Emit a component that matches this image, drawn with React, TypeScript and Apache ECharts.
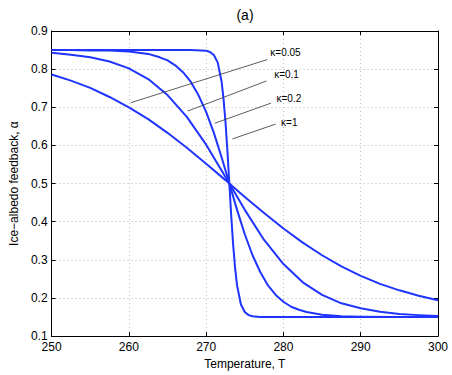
import React, { useEffect, useRef } from "react";
import * as echarts from "echarts";

const xTicks = [250, 260, 270, 280, 290, 300];
const yTicks = [0.1, 0.2, 0.3, 0.4, 0.5, 0.6, 0.7, 0.8, 0.9];

// kappa = 1
const tempK1 = [250, 252.5, 255, 257.5, 260, 262.5, 265, 267.5, 270, 272.5, 273, 275, 277.5, 280, 282.5, 285, 287.5, 290, 292.5, 295, 297.5, 300];
const alphaK1 = [0.786, 0.770, 0.751, 0.727, 0.700, 0.669, 0.633, 0.594, 0.552, 0.509, 0.5, 0.465, 0.423, 0.382, 0.345, 0.312, 0.283, 0.258, 0.237, 0.220, 0.206, 0.194];

// kappa = 0.2
const tempK02 = [250, 252.5, 255, 257.5, 260, 262.5, 265, 267.5, 270, 272.5, 273, 275, 277.5, 280, 282.5, 285, 287.5, 290, 292.5, 295, 297.5, 300];
const alphaK02 = [0.843, 0.838, 0.831, 0.820, 0.802, 0.774, 0.732, 0.675, 0.602, 0.517, 0.5, 0.431, 0.352, 0.289, 0.241, 0.208, 0.186, 0.173, 0.164, 0.158, 0.155, 0.153];

// kappa = 0.1
const tempK01 = [250, 252.5, 255, 257.5, 260, 262.5, 264, 265, 266, 267, 268, 269, 270, 271, 272, 273, 274, 275, 276, 277, 278, 279, 280, 281, 282, 283, 285, 287.5, 290, 295, 300];
const alphaK01 = [0.850, 0.850, 0.849, 0.849, 0.846, 0.840, 0.831, 0.823, 0.810, 0.792, 0.767, 0.732, 0.688, 0.633, 0.569, 0.5, 0.431, 0.367, 0.312, 0.268, 0.233, 0.208, 0.190, 0.177, 0.169, 0.163, 0.156, 0.152, 0.151, 0.150, 0.150];

// kappa = 0.05
const tempK005 = [250, 260, 268, 270, 270.5, 271, 271.5, 272, 272.25, 272.5, 272.75, 273, 273.25, 273.5, 273.75, 274, 274.5, 275, 275.5, 276, 277, 280, 290, 300];
const alphaK005 = [0.850, 0.850, 0.850, 0.848, 0.845, 0.837, 0.817, 0.767, 0.722, 0.662, 0.586, 0.5, 0.414, 0.338, 0.278, 0.233, 0.183, 0.163, 0.155, 0.152, 0.150, 0.150, 0.150, 0.150];

const labels = ["κ=0.05", "κ=0.1", "κ=0.2", "κ=1"];
// annotation leader lines: [T1, a1, T2, a2]
const leaders = [
  [260.25, 0.712, 277.9, 0.825],
  [267.6, 0.690, 277.8, 0.769],
  [271.1, 0.658, 278.4, 0.711],
  [273.4, 0.617, 279.0, 0.656],
];
const labelAnchors = [
  [278.3, 0.844],
  [278.8, 0.785],
  [279.1, 0.722],
  [279.7, 0.660],
];

const zip = (xs: number[], ys: number[]) => xs.map((x, i) => [x, ys[i]]);

const BLUE = "#1f35ff";
const FONT = "Liberation Sans, Arial, Helvetica, sans-serif";

export default function App() {
  const ref = useRef<HTMLDivElement>(null);
  useEffect(() => {
    if (!ref.current) return;
    const chart = echarts.init(ref.current, undefined, { renderer: "svg" });
    const seriesData = [
      zip(tempK005, alphaK005),
      zip(tempK01, alphaK01),
      zip(tempK02, alphaK02),
      zip(tempK1, alphaK1),
    ];
    const series: any[] = seriesData.map((d, i) => ({
      type: "line",
      data: d,
      showSymbol: false,
      smooth: false,
      lineStyle: { color: BLUE, width: 2, join: "round" },
      itemStyle: { color: BLUE },
      silent: true,
      z: 3,
      markLine: {
        silent: true,
        symbol: "none",
        label: { show: false },
        lineStyle: { color: "#333", width: 0.8, type: "solid" },
        data: [[{ coord: [leaders[i][0], leaders[i][1]] }, { coord: [leaders[i][2], leaders[i][3]] }]],
      },
      markPoint: {
        silent: true,
        symbol: "circle",
        symbolSize: 0,
        label: {
          show: true,
          position: "right",
          distance: 0,
          formatter: labels[i],
          color: "#000",
          fontSize: 10,
          fontFamily: FONT,
        },
        data: [{ coord: labelAnchors[i] }],
      },
    }));
    const axisCommon = {
      type: "value" as const,
      axisLine: { show: true, onZero: false, lineStyle: { color: "#000", width: 1 } },
      axisTick: { show: true, inside: true, length: 4, lineStyle: { color: "#000" } },
    };
    chart.setOption({
      animation: false,
      backgroundColor: "#fff",
      title: {
        text: "(a)",
        left: 240,
        top: 3,
        textAlign: "center",
        textStyle: { fontSize: 14, fontWeight: "normal", color: "#000", fontFamily: FONT },
      },
      grid: { left: 43, right: 14, top: 31, bottom: 33, containLabel: false },
      xAxis: [
        {
          ...axisCommon,
          min: 250,
          max: 300,
          interval: 10,
          position: "bottom",
          name: "Temperature, T",
          nameLocation: "middle",
          nameGap: 21,
          nameTextStyle: { fontSize: 12, color: "#000", fontFamily: FONT },
          axisLabel: {
            margin: 5,
            fontSize: 12,
            color: "#000",
            fontFamily: FONT,
            formatter: (v: number) => (xTicks.includes(v) ? String(v) : ""),
          },
          splitLine: { show: true, lineStyle: { color: "#bdbdbd", type: [1, 3], width: 1 } },
        },
        {
          ...axisCommon,
          min: 250,
          max: 300,
          interval: 10,
          position: "top",
          axisLabel: { show: false },
          splitLine: { show: false },
        },
      ],
      yAxis: [
        {
          ...axisCommon,
          min: 0.1,
          max: 0.9,
          interval: 0.1,
          position: "left",
          name: "Ice−albedo feedback, α",
          nameLocation: "middle",
          nameGap: 29,
          nameTextStyle: { fontSize: 12, color: "#000", fontFamily: FONT },
          axisLabel: {
            margin: 4,
            fontSize: 12,
            color: "#000",
            fontFamily: FONT,
            formatter: (v: number) => {
              const s = v.toFixed(1);
              return yTicks.map((t) => t.toFixed(1)).includes(s) ? s : "";
            },
          },
          splitLine: { show: true, lineStyle: { color: "#bdbdbd", type: [1, 3], width: 1 } },
        },
        {
          ...axisCommon,
          min: 0.1,
          max: 0.9,
          interval: 0.1,
          position: "right",
          axisLabel: { show: false },
          splitLine: { show: false },
        },
      ],
      series,
    });
    return () => chart.dispose();
  }, []);
  return (
    <div
      ref={ref}
      style={{ position: "fixed", left: 0, top: 0, width: 452, height: 375, background: "#fff" }}
    />
  );
}
